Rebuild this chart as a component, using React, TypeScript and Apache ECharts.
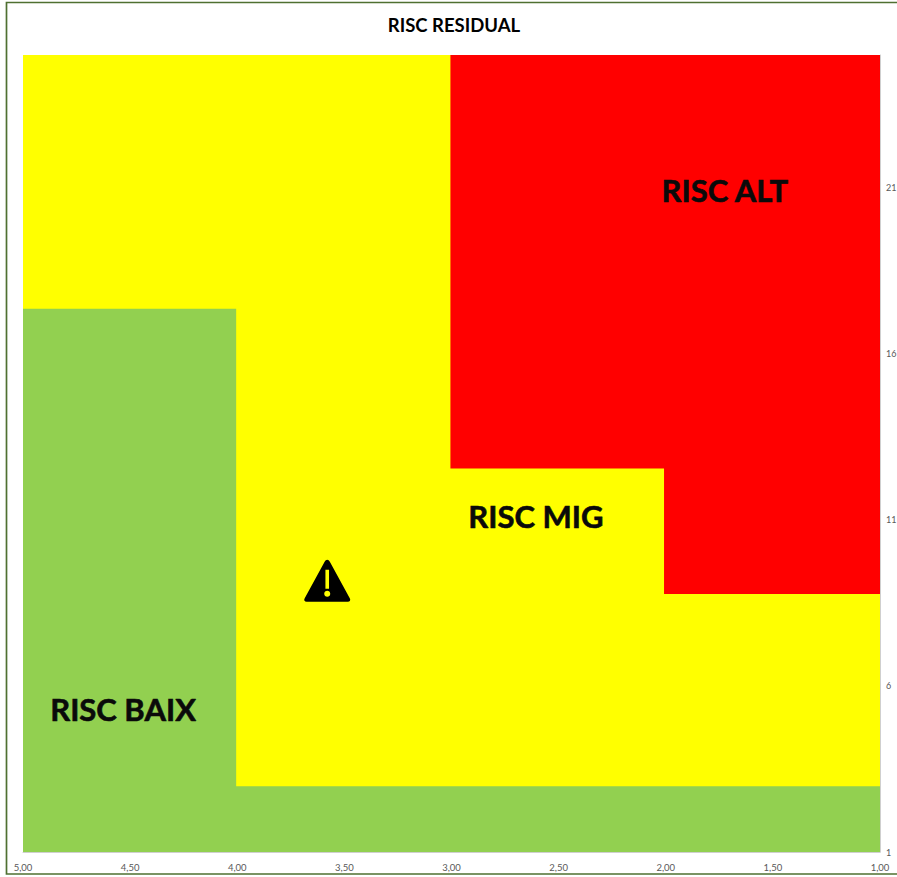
import React, { useEffect, useRef } from "react";
import * as echarts from "echarts";

const titleText = "RISC RESIDUAL";
const redBoundary = [[5, 25], [1, 25]];
const yellowBoundary = [[5, 25], [3.005, 25], [3.005, 12.55], [2.008, 12.55], [2.008, 8.77], [1, 8.77]];
const greenBoundary = [[5, 17.36], [4.005, 17.36], [4.005, 2.98], [1, 2.98]];
const yTickValues = [1, 6, 11, 16, 21];
const riskLabels = [
  { name: "RISC ALT", value: [1.724, 20.93] },
  { name: "RISC MIG", value: [2.606, 11.12] },
  { name: "RISC BAIX", value: [4.533, 5.32] },
];
const warningPoint = [[3.58, 9.17]];
const warningIcon =
  "path://M23 0C22 0 21 .8 20.4 2L.5 38.5C-.6 40.4 .3 42 2.5 42L43.5 42C45.7 42 46.6 40.4 45.5 38.5L25.6 2C25 .8 24 0 23 0Z" +
  "M21.2 10L24.8 10L24.8 29L21.2 29Z" +
  "M23 31C24.7 31 26 32.3 26 34C26 35.7 24.7 37 23 37C21.3 37 20 35.7 20 34C20 32.3 21.3 31 23 31Z";

const area = (name: string, data: number[][], color: string) => ({
  name,
  type: "line",
  data,
  showSymbol: false,
  silent: true,
  lineStyle: { width: 0 },
  areaStyle: { color, opacity: 1, origin: "start" },
});

export default function App() {
  const ref = useRef<HTMLDivElement>(null);
  useEffect(() => {
    document.body.style.margin = "0";
    document.body.style.overflow = "hidden";
    const chart = echarts.init(ref.current!, null, { renderer: "svg" });
    chart.setOption({
      animation: false,
      backgroundColor: "#ffffff",
      textStyle: { fontFamily: "Lato" },
      title: {
        text: titleText,
        left: 449,
        top: 10,
        textAlign: "center",
        textStyle: { fontFamily: "Lato", fontSize: 18.5, fontWeight: "bold", color: "#000000" },
      },
      graphic: [
        {
          type: "rect",
          silent: true,
          z: -1,
          shape: { x: 6.5, y: 2.5, width: 1000, height: 871.5 },
          style: { fill: "none", stroke: "#4F7031", lineWidth: 1.7 },
        },
      ],
      grid: { left: 23, right: 17, top: 55, bottom: 25, outerBoundsMode: "none" },
      xAxis: {
        type: "value",
        inverse: true,
        min: 1,
        max: 5,
        interval: 0.5,
        splitLine: { show: false },
        axisTick: { show: false },
        axisLine: { show: true, onZero: false, lineStyle: { color: "#CFCFCF", width: 1 } },
        axisLabel: {
          show: true,
          fontSize: 9.5,
          color: "#595959",
          margin: 10,
          fontFamily: "Lato",
          formatter: (v: number) => v.toFixed(2).replace(".", ","),
          hideOverlap: false,
        },
      },
      yAxis: {
        type: "value",
        position: "right",
        min: 1,
        max: 25,
        splitLine: { show: false },
        axisTick: { show: false },
        axisLine: { show: true, onZero: false, lineStyle: { color: "#CFCFCF", width: 1 } },
        axisLabel: {
          show: true,
          customValues: yTickValues,
          fontSize: 9,
          color: "#595959",
          margin: 6,
          fontFamily: "Lato",
        },
      },
      series: [
        area("RISC ALT", redBoundary, "#FF0000"),
        area("RISC MIG", yellowBoundary, "#FFFF00"),
        area("RISC BAIX", greenBoundary, "#92D050"),
        {
          type: "scatter",
          silent: true,
          z: 5,
          symbol: warningIcon,
          symbolSize: [46, 42],
          itemStyle: { color: "#000000", opacity: 1 },
          data: warningPoint,
        },
        {
          type: "scatter",
          silent: true,
          z: 6,
          symbolSize: 0,
          itemStyle: { opacity: 1 },
          data: riskLabels,
          label: {
            show: true,
            position: "inside",
            formatter: (p: any) => p.name,
            fontFamily: "Lato",
            fontSize: 31,
            fontWeight: "bold",
            color: "#0A0A0A",
            textBorderColor: "#0A0A0A",
            textBorderWidth: 0.6,
            opacity: 1,
          },
        },
      ],
    });
    return () => chart.dispose();
  }, []);
  return <div ref={ref} style={{ width: 897, height: 877 }} />;
}
